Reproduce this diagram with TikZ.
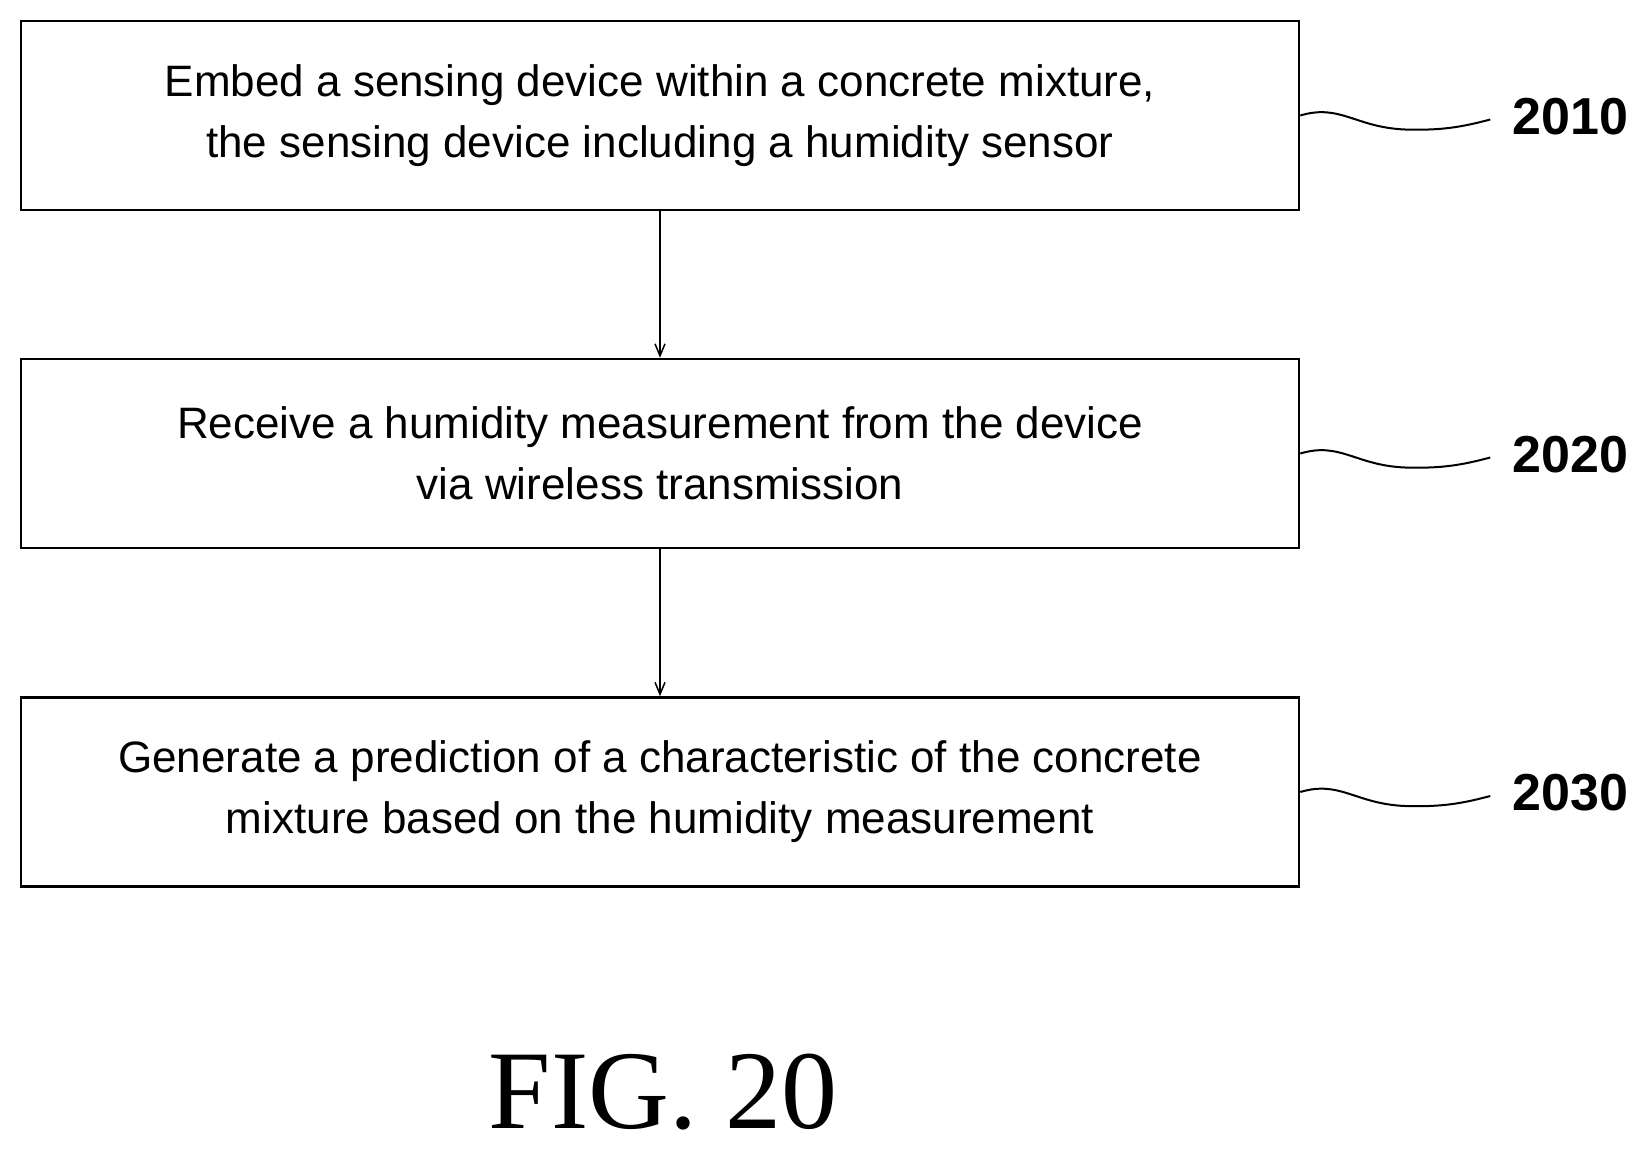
\documentclass[tikz,border=0pt]{standalone}
\usepackage{fontspec}
\setmainfont{Liberation Sans}
\newfontfamily\figfont{Liberation Serif}
\usetikzlibrary{arrows.meta}
\begin{document}
\begin{tikzpicture}[x=1pt,y=-1pt,
  stepbox/.style={draw,line width=2.5pt,minimum width=1278pt,minimum height=189pt,align=center,inner sep=0pt,font=\fontsize{44}{61}\selectfont},
  lbl/.style={font=\fontsize{52}{56}\selectfont\bfseries,anchor=west,inner sep=0pt}]
\useasboundingbox (0,0) rectangle (1645,1149);
\node[stepbox] (b1) at (660,115.5) {Embed a sensing device within a concrete mixture,\\the sensing device including a humidity sensor};
\node[stepbox] (b2) at (660,453.5) {Receive a humidity measurement from the device\\via wireless transmission};
\node[stepbox] (b3) at (660,792) {Generate a prediction of a characteristic of the concrete\\mixture based on the humidity measurement};
\draw[-{Straight Barb[length=12pt,width=10pt]},line width=1.5pt] (b1.south) -- (b2.north);
\draw[-{Straight Barb[length=12pt,width=10pt]},line width=1.5pt] (b2.south) -- (b3.north);
\foreach \b/\t in {b1/2010,b2/2020,b3/2030}{
  \node[lbl] (l\t) at ([xshift=212pt,yshift=-1pt]\b.east) {\t};
  \coordinate (e\t) at ([xshift=-22pt,yshift=-3pt]l\t.west);
  \draw[line width=2pt] (\b.east) .. controls +(40,-12) and +(-50,-2) .. +(105,14) .. controls +(35,1) and +(-30,8) .. (e\t);
}
\node[font=\figfont\fontsize{112}{112}\selectfont,inner sep=0pt] (fig) at (663,1092) {FIG. 20};
\end{tikzpicture}
\end{document}
